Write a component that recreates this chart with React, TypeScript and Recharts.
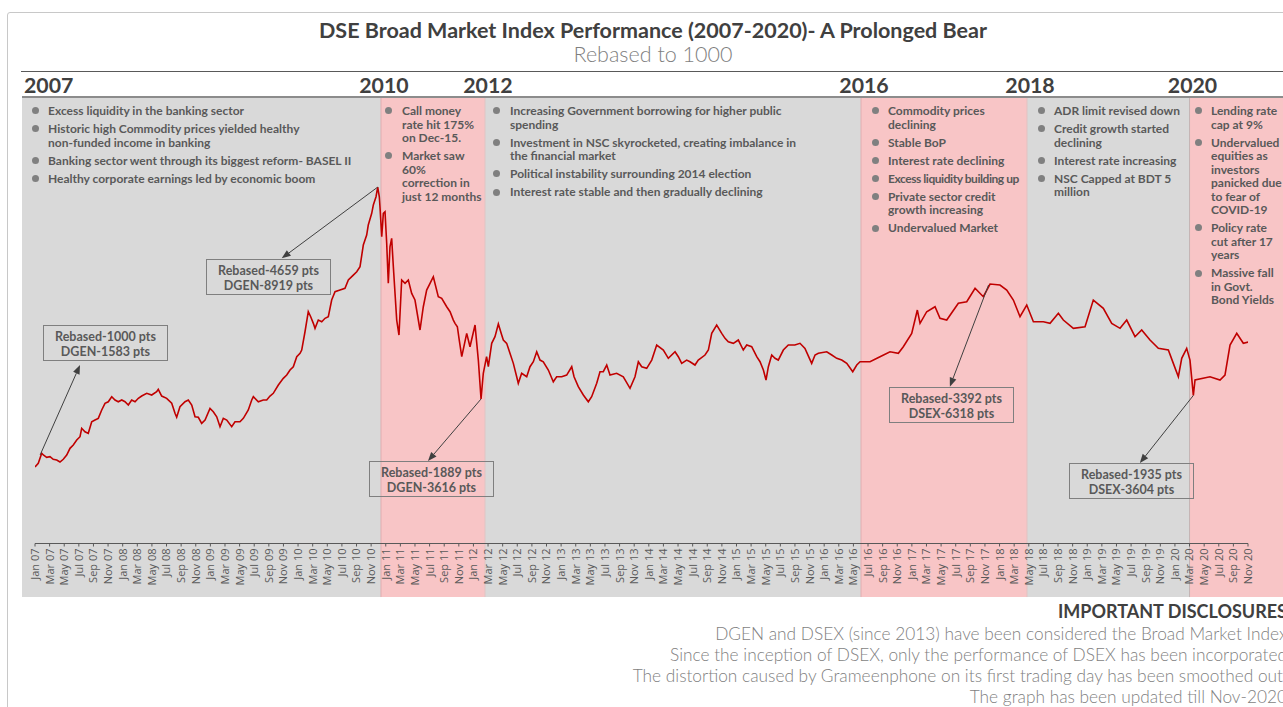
import React from 'react';
import { LineChart, Line, XAxis, YAxis, ReferenceArea, ReferenceLine } from 'recharts';

// [month index (0 = Jan 2007), rebased value]
const bull2007to2010 = [
  [0, 1000], [0.45, 1048], [0.92, 1179], [1.14, 1157], [1.6, 1127], [2.05, 1135], [2.5, 1101], [2.97, 1091], [3.42, 1065], [3.87, 1101],
  [4.34, 1157], [4.79, 1244], [5.24, 1288], [5.71, 1353], [6.16, 1396], [6.39, 1506], [6.84, 1461], [7.29, 1440], [7.76, 1592], [8.21, 1614],
  [8.66, 1636], [9.13, 1745], [9.58, 1833], [10.03, 1853], [10.5, 1919], [10.95, 1876], [11.4, 1853], [11.87, 1876], [12.32, 1853], [12.77, 1810],
  [13.23, 1876], [13.69, 1853], [14.14, 1898], [14.6, 1928], [15.29, 1963], [15.97, 1941], [16.65, 1984], [16.87, 2016], [17.34, 1928], [18.02, 1898],
  [18.71, 1833], [19.16, 1702], [19.39, 1650], [19.84, 1788], [20.53, 1853], [20.98, 1876], [21.45, 1810], [21.9, 1657], [22.35, 1650], [22.81, 1571],
  [23.27, 1614], [23.95, 1767], [24.4, 1723], [24.87, 1657], [25.32, 1527], [25.77, 1636], [26.24, 1614], [26.92, 1527], [27.37, 1592], [28.05, 1592],
  [28.51, 1636], [29.19, 1745], [29.66, 1876], [29.88, 1919], [30.56, 1853], [31.24, 1876], [31.71, 1876], [32.16, 1928], [32.61, 1963], [33.3, 2072],
  [33.98, 2159], [34.45, 2202], [34.9, 2268], [35.35, 2311], [35.82, 2442], [36.27, 2486], [36.5, 2529], [36.95, 2768], [37.4, 3030], [37.73, 2964],
  [38.09, 2878], [38.32, 2813], [38.77, 2921], [39.24, 2899], [39.69, 2944], [40.14, 2964], [40.6, 3183], [41.06, 3291], [41.74, 3313], [42.42, 3336],
  [42.88, 3444], [43.56, 3509], [44.03, 3553], [44.48, 3618], [44.93, 3902], [45.39, 4032], [45.61, 4163], [46.08, 4316], [46.3, 4425], [46.67, 4533],
  [46.9, 4659],
];

const crash2010to2012 = [
  [47.12, 4533], [47.21, 4402], [47.45, 4010], [47.67, 4316], [47.9, 4337], [48.13, 3924], [48.35, 3401], [48.58, 3879], [48.81, 3989],
  [49.04, 3618], [49.5, 2921], [49.81, 2725], [50.18, 3444], [50.64, 3401], [51.09, 3444], [51.55, 3270], [52.0, 3183],
  [52.69, 2791], [53.14, 3095], [53.6, 3313], [54.06, 3401], [54.51, 3487], [55.19, 3226], [55.66, 3205], [56.34, 3095], [56.8, 3030],
  [57.25, 2921], [57.48, 2878], [57.8, 2834], [58.06, 2660], [58.4, 2442], [59.08, 2747], [59.53, 2572], [60.22, 2856], [60.67, 2398],
  [61.04, 1889],
];

const flat2012to2016 = [
  [61.35, 2225], [61.8, 2442], [62.04, 2311], [62.5, 2617], [62.95, 2703], [63.41, 2869], [63.87, 2725], [64.09, 2660], [64.55, 2617], [65.0, 2486],
  [65.46, 2355], [65.92, 2180], [66.14, 2094], [66.6, 2225], [67.29, 2180], [67.74, 2311], [68.2, 2376], [68.66, 2507], [69.11, 2398], [69.56, 2376],
  [70.25, 2268], [70.93, 2115], [71.39, 2180], [72.08, 2180], [72.76, 2202], [73.45, 2311], [73.77, 2180], [74.35, 2050], [75.04, 1941], [75.72, 1853],
  [76.18, 1919], [76.87, 2094], [77.32, 2246], [77.77, 2246], [78.24, 2333], [78.69, 2202], [79.6, 2225], [80.51, 2180], [81.43, 2029], [82.11, 2180],
  [82.57, 2376], [83.03, 2311], [83.71, 2290], [84.4, 2398], [85.08, 2595], [85.99, 2529], [86.67, 2421], [87.59, 2507], [88.04, 2442], [88.5, 2355],
  [89.18, 2398], [89.64, 2376], [90.32, 2333], [90.77, 2398], [91.69, 2464], [92.15, 2529], [92.61, 2747], [93.29, 2856], [93.98, 2747], [94.43, 2682],
  [94.88, 2638], [95.57, 2617], [96.25, 2660], [96.93, 2529], [97.4, 2595], [98.08, 2572], [98.77, 2442], [99.22, 2376], [99.68, 2268], [100.04, 2137],
  [100.36, 2311], [100.82, 2464], [101.27, 2421], [101.72, 2398], [102.41, 2529], [103.09, 2595], [103.99, 2595], [104.69, 2617], [105.37, 2551], [106.29, 2355],
  [106.75, 2464], [107.2, 2486], [108.35, 2507], [109.04, 2464], [109.72, 2421], [110.4, 2398], [111.09, 2355], [111.91, 2246], [112.46, 2333], [112.91, 2376],
];

const rally2016to2018 = [
  [114.27, 2376], [115.64, 2442], [117.01, 2507], [118.15, 2486], [118.83, 2572], [119.98, 2747], [120.75, 3052], [121.12, 2878], [122.03, 3030], [123.17, 3095],
  [123.85, 2944], [124.77, 2921], [126.36, 3140], [127.51, 3160], [128.65, 3336], [129.78, 3226], [130.7, 3392], [132.06, 3379], [132.98, 3313], [133.89, 3183],
  [134.8, 2964], [135.72, 3117],
];

const slide2018to2020 = [
  [136.63, 2899], [137.99, 2899], [138.91, 2878], [140.05, 3009], [140.73, 2921], [142.1, 2813], [143.7, 2834], [144.83, 3183], [146.2, 3074], [147.35, 2878],
  [148.49, 2813], [149.4, 2921], [150.54, 2703], [151.45, 2791], [152.59, 2660], [153.73, 2551], [155.1, 2529], [155.78, 2355], [156.47, 2180], [156.93, 2421],
  [157.61, 2551], [158.06, 2398], [158.3, 2159], [158.52, 1935], [158.75, 2137], [160.8, 2180], [162.17, 2137], [162.85, 2202], [163.54, 2595], [164.46, 2747],
  [165.36, 2617], [166.2, 2638],
];

const tickMonthNames = ['Jan', 'Mar', 'May', 'Jul', 'Sep', 'Nov'];
const tickYears = ['07', '08', '09', '10', '11', '12', '13', '14', '15', '16', '17', '18', '19', '20'];
const tickLabels = tickYears.flatMap((y) => tickMonthNames.map((mo) => `${mo} ${y}`));
const tickPositions = tickLabels.map((_, i) => i * 2);

// shaded periods [start month, end month]
const bandStarts = [47.35, 113.04, 158.0];
const bandEnds = [61.58, 135.76, 172];

const yearLabels = ['2010', '2012', '2016', '2018', '2020'];
const yearLabelMonths = [47.35, 61.58, 113.04, 135.76, 158.0];

// callouts: arrow from data point to box
const arrowFrom = [
  [0.7, 1157],
  [46.9, 4659],
  [61.04, 1889],
  [130.5, 3380],
  [158.52, 1935],
];
const arrowTo = [
  [6.16, 2333],
  [33.76, 3728],
  [53.78, 1078],
  [125.2, 2050],
  [151.2, 1052],
];

const calloutTexts = [
  ['Rebased-1000 pts', 'DGEN-1583 pts'],
  ['Rebased-4659 pts', 'DGEN-8919 pts'],
  ['Rebased-1889 pts', 'DGEN-3616 pts'],
  ['Rebased-3392 pts', 'DSEX-6318 pts'],
  ['Rebased-1935 pts', 'DSEX-3604 pts'],
];
const calloutBoxes = [
  { left: 43, top: 325 },
  { left: 206, top: 259 },
  { left: 369, top: 461 },
  { left: 889, top: 387 },
  { left: 1069, top: 463 },
];

const bulletBlocks = [
  {
    bullet: 35, text: 48,
    items: [
      ['Excess liquidity in the banking sector'],
      ['Historic high Commodity prices yielded healthy', 'non-funded income in banking'],
      ['Banking sector went through its biggest reform- BASEL II'],
      ['Healthy corporate earnings led by economic boom'],
    ],
  },
  {
    bullet: 388, text: 402,
    items: [
      ['Call money', 'rate hit 175%', 'on Dec-15.'],
      ['Market saw', '60%', 'correction in', 'just 12 months'],
    ],
  },
  {
    bullet: 496, text: 510,
    items: [
      ['Increasing Government borrowing for higher public', 'spending'],
      ['Investment in NSC skyrocketed, creating imbalance in', 'the financial market'],
      ['Political instability surrounding 2014 election'],
      ['Interest rate stable and then gradually declining'],
    ],
  },
  {
    bullet: 875, text: 888,
    items: [
      ['Commodity prices', 'declining'],
      ['Stable BoP'],
      ['Interest rate declining'],
      ['Excess liquidity building up'],
      ['Private sector credit', 'growth increasing'],
      ['Undervalued Market'],
    ],
  },
  {
    bullet: 1041, text: 1054,
    items: [
      ['ADR limit revised down'],
      ['Credit growth started', 'declining'],
      ['Interest rate increasing'],
      ['NSC Capped at BDT 5', 'million'],
    ],
  },
  {
    bullet: 1198, text: 1211,
    items: [
      ['Lending rate', 'cap at 9%'],
      ['Undervalued', 'equities as', 'investors', 'panicked due', 'to fear of', 'COVID-19'],
      ['Policy rate', 'cut after 17', 'years'],
      ['Massive fall', 'in Govt.', 'Bond Yields'],
    ],
  },
];

const disclosures = [
  'DGEN and DSEX (since 2013) have been considered the Broad Market Index',
  'Since the inception of DSEX, only the performance of DSEX has been incorporated',
  'The distortion caused by Grameenphone on its first trading day has been smoothed out.',
  'The graph has been updated till Nov-2020',
];

const data = [...bull2007to2010, ...crash2010to2012, ...flat2012to2016, ...rally2016to2018, ...slide2018to2020].map(
  ([m, v]) => ({ m, v })
);

// layout
const W = 1283;
const H = 707;
const PLOT_L = 35;
const PLOT_R = 1248;
const PLOT_T = 96;
const PLOT_B = 543.5;
const X_MAX = 166;
const Y_MAX = 5850;
const monthToPx = (m: number) => PLOT_L + (m / X_MAX) * (PLOT_R - PLOT_L);

const FONT = 'Lato, "Open Sans", sans-serif';
const RED = '#c00000';
const PINK = '#f8c5c6';
const GRAY_BG = '#d9d9d9';

const RotTick = (props: any) => {
  const { x, y, payload } = props;
  const idx = tickPositions.indexOf(payload.value);
  return (
    <text
      x={x}
      y={y}
      transform={`rotate(-90 ${x} ${y})`}
      textAnchor="end"
      dy="0.36em"
      fontSize={11}
      fontFamily='"Open Sans", "Liberation Sans", sans-serif'
      fill="#595959"
    >
      {idx >= 0 ? tickLabels[idx] : ''}
    </text>
  );
};

const ArrowShape = (props: any) => {
  const { x1, y1, x2, y2 } = props;
  if ([x1, y1, x2, y2].some((v) => v == null || isNaN(v))) return null;
  const dx = x2 - x1;
  const dy = y2 - y1;
  const len = Math.sqrt(dx * dx + dy * dy) || 1;
  const ux = dx / len;
  const uy = dy / len;
  const hl = 9;
  const hw = 3.5;
  const bx = x2 - ux * hl;
  const by = y2 - uy * hl;
  const p1 = `${x2},${y2}`;
  const p2 = `${bx - uy * hw},${by + ux * hw}`;
  const p3 = `${bx + uy * hw},${by - ux * hw}`;
  return (
    <g>
      <line x1={x1} y1={y1} x2={bx} y2={by} stroke="#404040" strokeWidth={1} />
      <polygon points={`${p1} ${p2} ${p3}`} fill="#404040" />
    </g>
  );
};

const Bullets = ({ block }: any) => (
  <div
    style={{
      position: 'absolute',
      left: block.text,
      top: 104,
      fontFamily: FONT,
      fontWeight: 700,
      fontSize: 12,
      color: '#595959',
    }}
  >
    {block.items.map((lines: string[], i: number) => (
      <div key={i} style={{ position: 'relative', marginBottom: 4.6 }}>
        <span
          style={{
            position: 'absolute',
            left: block.bullet - block.text - 3.5,
            top: 3.3,
            width: 7,
            height: 7,
            borderRadius: '50%',
            background: '#808080',
          }}
        />
        {lines.map((l, j) => (
          <div
            key={j}
            style={{
              whiteSpace: 'nowrap',
              height: 13.5,
              lineHeight: '13.5px',
              letterSpacing: l === 'Excess liquidity building up' ? -0.45 : 0,
            }}
          >
            {l}
          </div>
        ))}
      </div>
    ))}
  </div>
);

export default function App() {
  return (
    <div
      style={{
        position: 'absolute',
        left: 0,
        top: 0,
        width: W,
        height: H,
        overflow: 'hidden',
        background: '#ffffff',
        fontFamily: FONT,
      }}
    >
      {/* frame */}
      <div
        style={{
          position: 'absolute',
          left: 7,
          top: 12,
          width: 1300,
          height: 760,
          border: '1px solid #c8c8c8',
          borderRadius: 3,
        }}
      />
      {/* title */}
      <div
        style={{
          position: 'absolute',
          left: 0,
          width: 1306,
          top: 16,
          textAlign: 'center',
          fontWeight: 700,
          fontSize: 21.5,
          color: '#404040',
          lineHeight: '28px',
        }}
      >
        DSE Broad Market Index Performance (2007-2020)- A Prolonged Bear
      </div>
      <div
        style={{
          position: 'absolute',
          left: 0,
          width: 1306,
          top: 40,
          textAlign: 'center',
          fontWeight: 300,
          fontSize: 21.5,
          color: '#7f7f7f',
          lineHeight: '28px',
        }}
      >
        Rebased to 1000
      </div>
      {/* header line */}
      <div style={{ position: 'absolute', left: 21, top: 70.5, width: 1270, height: 1.5, background: '#595959' }} />
      {/* year labels */}
      <div
        style={{
          position: 'absolute',
          left: 24,
          top: 71.5,
          fontWeight: 700,
          fontSize: 21.3,
          color: '#404040',
          lineHeight: '27px',
        }}
      >
        2007
      </div>
      {yearLabels.map((yl, i) => (
        <div
          key={yl}
          style={{
            position: 'absolute',
            left: monthToPx(yearLabelMonths[i]) + 3 - 40,
            width: 80,
            top: 71.5,
            textAlign: 'center',
            fontWeight: 700,
            fontSize: 21.3,
            color: '#404040',
            lineHeight: '27px',
          }}
        >
          {yl}
        </div>
      ))}
      {/* grey background */}
      <div style={{ position: 'absolute', left: 22, top: 96, width: 1270, height: 501, background: GRAY_BG }} />

      <div style={{ position: 'absolute', left: 0, top: 0 }}>
        <LineChart
          width={W}
          height={H}
          data={data}
          margin={{ top: PLOT_T, right: W - PLOT_R, bottom: H - PLOT_B - 50, left: PLOT_L }}
        >
          {bandStarts.map((s, i) => (
            <ReferenceArea
              key={`band${i}`}
              x1={s}
              x2={bandEnds[i]}
              y1={-700}
              y2={Y_MAX}
              fill={PINK}
              fillOpacity={1}
              stroke="none"
              ifOverflow="visible"
            />
          ))}
          {bandStarts.map((s, i) => (
            <ReferenceLine
              key={`edge${i}`}
              segment={[
                { x: s, y: -700 },
                { x: s, y: Y_MAX },
              ]}
              stroke={i === 2 ? '#c4b4b4' : '#e0aeb0'}
              strokeWidth={1}
              ifOverflow="visible"
            />
          ))}
          {bandEnds.slice(0, 2).map((s, i) => (
            <ReferenceLine
              key={`edgeE${i}`}
              segment={[
                { x: s, y: -700 },
                { x: s, y: Y_MAX },
              ]}
              stroke="#e0c4c4"
              strokeWidth={1}
              ifOverflow="visible"
            />
          ))}
          <XAxis
            dataKey="m"
            type="number"
            domain={[0, X_MAX]}
            allowDataOverflow
            ticks={tickPositions}
            interval={0}
            height={50}
            tickSize={3}
            tickMargin={2}
            tick={<RotTick />}
            axisLine={{ stroke: '#595959', strokeWidth: 1 }}
            tickLine={{ stroke: '#595959' }}
          />
          <YAxis hide type="number" domain={[0, Y_MAX]} allowDataOverflow />
          <Line
            type="linear"
            dataKey="v"
            stroke={RED}
            strokeWidth={1.6}
            dot={false}
            isAnimationActive={false}
          />
          {arrowFrom.map((f, i) => (
            <ReferenceLine
              key={`arr${i}`}
              segment={[
                { x: f[0], y: f[1] },
                { x: arrowTo[i][0], y: arrowTo[i][1] },
              ]}
              ifOverflow="visible"
              shape={<ArrowShape />}
            />
          ))}
        </LineChart>
      </div>

      {/* thick top rule of the plot panel */}
      <div style={{ position: 'absolute', left: 22, top: 95.5, width: 1270, height: 2.5, background: '#8c8c8c' }} />

      {bulletBlocks.map((b, i) => (
        <Bullets key={i} block={b} />
      ))}

      {calloutTexts.map((t, i) => (
        <div
          key={i}
          style={{
            position: 'absolute',
            left: calloutBoxes[i].left,
            top: calloutBoxes[i].top,
            width: 125,
            height: 36,
            boxSizing: 'border-box',
            border: '1px solid #7f7f7f',
            textAlign: 'center',
            fontWeight: 700,
            fontSize: 12.5,
            color: '#595959',
            lineHeight: '15px',
            paddingTop: 3,
          }}
        >
          <div>{t[0]}</div>
          <div>{t[1]}</div>
        </div>
      ))}

      {/* disclosures */}
      <div
        style={{
          position: 'absolute',
          left: 0,
          width: 1287,
          top: 600,
          textAlign: 'right',
          whiteSpace: 'nowrap',
        }}
      >
        <div style={{ fontWeight: 700, fontSize: 18, color: '#404040', lineHeight: '23px' }}>IMPORTANT DISCLOSURES</div>
        {disclosures.map((d) => (
          <div key={d} style={{ fontWeight: 300, fontSize: 17.3, color: '#7f7f7f', lineHeight: '21px' }}>
            {d}
          </div>
        ))}
      </div>
    </div>
  );
}
